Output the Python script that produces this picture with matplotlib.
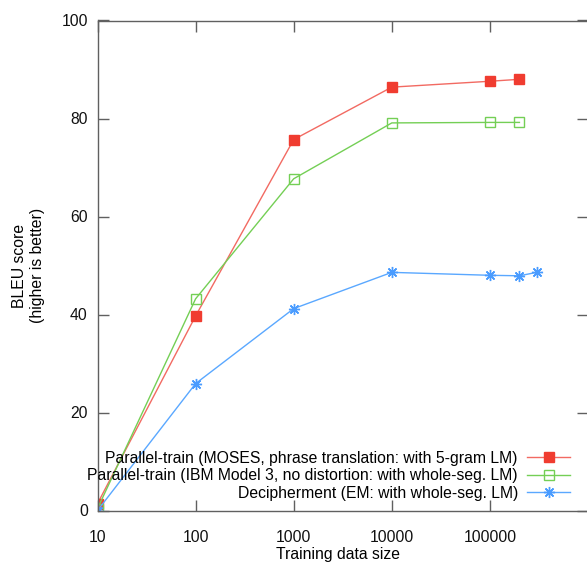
import matplotlib
matplotlib.use('Agg')
import matplotlib.pyplot as plt
from matplotlib.ticker import FixedLocator, NullLocator

plt.rcParams['font.family'] = ['Liberation Sans', 'DejaVu Sans']

# data
moses_x = [10, 100, 1000, 10000, 100000, 200000]
moses_y = [1.4, 39.7, 75.7, 86.4, 87.6, 88.0]
ibm_x = [10, 100, 1000, 10000, 100000, 200000]
ibm_y = [0.4, 43.2, 67.7, 79.1, 79.2, 79.2]
deci_x = [10, 100, 1000, 10000, 100000, 200000, 300000]
deci_y = [0.0, 25.9, 41.2, 48.6, 48.0, 47.9, 48.6]

labels = ['Parallel-train (MOSES, phrase translation: with 5-gram LM)',
          'Parallel-train (IBM Model 3, no distortion: with whole-seg. LM)',
          'Decipherment (EM: with whole-seg. LM)']
xticks = [10, 100, 1000, 10000, 100000]
xtick_labels = ['10', '100', '1000', '10000', '100000']
yticks = [0, 20, 40, 60, 80, 100]

fig = plt.figure(figsize=(5.87, 5.63), dpi=100)
ax = fig.add_axes([97.5 / 587, 52.5 / 563, 490.5 / 587, 490 / 563])

ax.plot(moses_x, moses_y, color='#f26a62', lw=1, marker='s', ms=7,
        mfc='#f03c30', mec='#f03c30', label=labels[0])
ax.plot(ibm_x, ibm_y, color='#74cf55', lw=1, marker='s', ms=7,
        mfc='none', mec='#74cf55', mew=1, label=labels[1])
ax.plot(deci_x, deci_y, color='#5aa8ff', lw=1, marker=(8, 2, 0), ms=8,
        mec='#4a9cff', mew=1, label=labels[2])

ax.set_xscale('log')
ax.set_xlim(10, 1e6)
ax.set_ylim(0, 100)
ax.xaxis.set_major_locator(FixedLocator(xticks))
ax.xaxis.set_minor_locator(NullLocator())
ax.set_xticklabels(xtick_labels)
ax.set_yticks(yticks)

for s in ax.spines.values():
    s.set_color('#606060')
    s.set_linewidth(1)
ax.tick_params(axis='both', which='major', direction='in', length=8, width=1,
               color='#606060', top=True, right=True, labelsize=11.3,
               labelcolor='#111111')
ax.tick_params(axis='x', pad=14)
ax.tick_params(axis='y', pad=7)

ax.set_xlabel('Training data size', fontsize=11.3)
ax.xaxis.set_label_coords(0.49, -0.075)
ax.set_ylabel('BLEU score\n(higher is better)', fontsize=11.3, linespacing=1.25)
ax.yaxis.set_label_coords(-0.108, 0.5)

ax.legend(loc='lower right', markerfirst=False, frameon=False, fontsize=11.3,
          handlelength=2.75, handletextpad=0.6, labelspacing=0.15,
          borderpad=0, bbox_to_anchor=(0.98, 0.004))

fig.savefig('out.png', dpi=100)
